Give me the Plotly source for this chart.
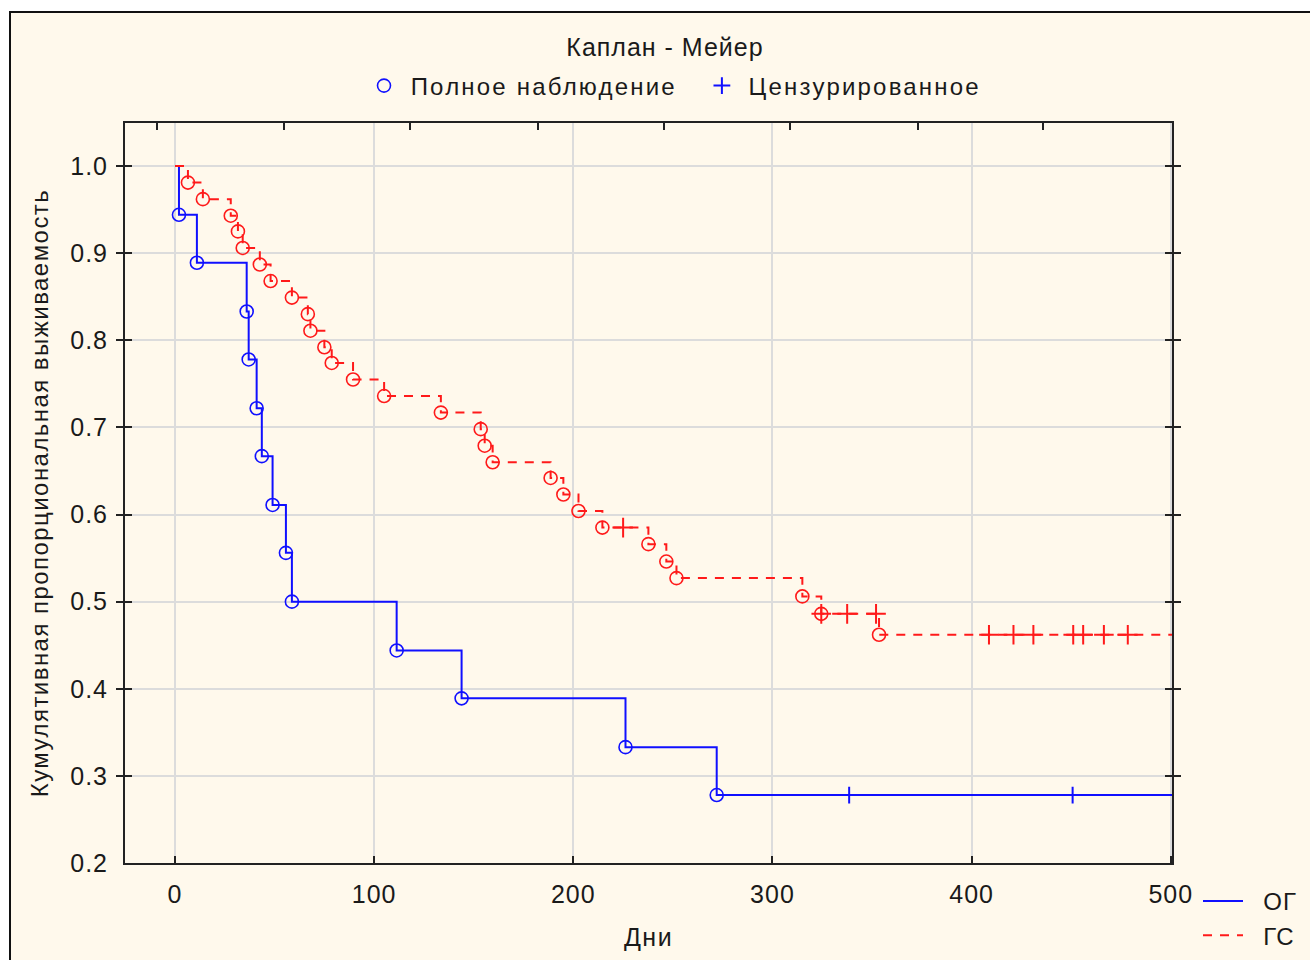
import plotly.graph_objects as go

# ---- Kaplan-Meier estimates, read per group ----
# ОГ (solid blue)
og_event_days = [2, 11, 36, 37, 41, 43.6, 49, 55.7, 58.7, 111.3, 143.9, 226.2, 272]
og_event_surv = [0.944, 0.889, 0.833, 0.778, 0.722, 0.667, 0.611, 0.556, 0.500,
                 0.444, 0.389, 0.333, 0.278]
og_censor_days = [338.5, 450.7]
og_censor_surv = [0.278, 0.278]
og_followup_end = 510

# ГС (dashed red)
gs_event_days = [6.5, 14, 28, 31.6, 34, 42.6, 48, 58.7, 66.7, 68, 75, 78.7, 89.4, 105,
                 133.5, 153.5, 155.5, 159.5, 188.6, 195, 202.6, 214.6, 237.7, 246.7,
                 251.8, 315, 324.5, 353.5]
gs_event_surv = [0.981, 0.962, 0.943, 0.925, 0.906, 0.887, 0.868, 0.849, 0.830, 0.811,
                 0.792, 0.774, 0.755, 0.736, 0.717, 0.698, 0.679, 0.660, 0.642, 0.623,
                 0.604, 0.585, 0.566, 0.546, 0.527, 0.506, 0.486, 0.462]
gs_censor_days = [225, 324.5, 337.5, 352, 408.7, 421, 431, 451, 456, 466.4, 478.4]
gs_censor_surv = [0.585, 0.486, 0.486, 0.486, 0.462, 0.462, 0.462, 0.462, 0.462,
                  0.462, 0.462]
gs_followup_end = 510

x_ticks = [0, 100, 200, 300, 400, 500]
y_ticks = [0.2, 0.3, 0.4, 0.5, 0.6, 0.7, 0.8, 0.9, 1.0]
top_ticks = [-9.0, 54.7, 117.9, 182.1, 245.7, 308.9, 373.1, 435.8]

BLUE = "#1010ff"
RED = "#ff1a1a"
CREAM = "#fff9ec"
FONT = "Liberation Sans, Arial, sans-serif"
TXT = "#1a1a1a"


def spaced(text, px_gap):
    return f'<span style="letter-spacing:{px_gap}px">{text}</span>'


def step_xy(days, surv, end):
    xs = [0] + list(days) + [end]
    ys = [1.0] + list(surv) + [surv[-1]]
    return xs, ys


fig = go.Figure()

gx, gy = step_xy(gs_event_days, gs_event_surv, gs_followup_end)
ox, oy = step_xy(og_event_days, og_event_surv, og_followup_end)

# the dashed ГС curve sits on the top (secondary) x axis, which shares the same range
fig.add_trace(go.Scatter(
    x=gx, y=gy, mode="lines", name=spaced("  ГС", 1), line_shape="hv", xaxis="x2",
    line=dict(color=RED, width=2, dash="9px,8px"), legend="legend", legendrank=2))
fig.add_trace(go.Scatter(
    x=gs_event_days, y=gs_event_surv, mode="markers", showlegend=False,
    marker=dict(symbol="circle-open", size=13, color=RED, line=dict(width=1.6, color=RED))))
fig.add_trace(go.Scatter(
    x=gs_censor_days, y=gs_censor_surv, mode="markers", showlegend=False,
    marker=dict(symbol="cross-thin-open", size=14, color=RED, line=dict(width=2, color=RED))))

fig.add_trace(go.Scatter(
    x=ox, y=oy, mode="lines", name=spaced("  ОГ", 1), line_shape="hv",
    line=dict(color=BLUE, width=2), legend="legend", legendrank=1))
fig.add_trace(go.Scatter(
    x=og_event_days, y=og_event_surv, mode="markers",
    name=" " + spaced("Полное наблюдение", 2.2) + "   ",
    legend="legend2", legendrank=1,
    marker=dict(symbol="circle-open", size=13, color=BLUE, line=dict(width=1.6, color=BLUE))))
fig.add_trace(go.Scatter(
    x=og_censor_days, y=og_censor_surv, mode="markers",
    name=" " + spaced("Цензурированное", 2.2),
    legend="legend2", legendrank=2,
    marker=dict(symbol="cross-thin-open", size=12, color=BLUE, line=dict(width=2, color=BLUE))))

# plot-area geometry in pixels (used for paper-space placement of frame and legends)
L, R, T, B = 125, 1172, 123, 863
W, H = 1310, 960
pw, ph = R - L, B - T


def px(xp):
    return (xp - L) / pw


def py(yp):
    return (B - yp) / ph


tick_font = dict(size=25, color=TXT)

fig.update_layout(
    width=W, height=H,
    margin=dict(l=L, r=W - R, t=T, b=H - B, autoexpand=False),
    paper_bgcolor="white",
    plot_bgcolor="white",
    font=dict(family=FONT, color=TXT, size=22),
    title=dict(text=spaced("Каплан - Мейер", 1), x=665 / W, xanchor="center",
               y=1 - 47 / H, yanchor="middle", font=dict(size=25, color=TXT)),
    xaxis=dict(range=[-25.1, 500.6], tickvals=x_ticks,
               ticktext=[spaced(str(v), 1) for v in x_ticks],
               ticks="inside", ticklen=7,
               tickwidth=2, tickcolor="#222", showline=True, linewidth=2, linecolor="#222",
               mirror=True, showgrid=True, gridcolor="#dcdcdc", gridwidth=2,
               zeroline=False, tickfont=tick_font, ticklabelstandoff=8,
               title=dict(text=spaced("Дни", 1.5), font=dict(size=25, color=TXT), standoff=21)),
    xaxis2=dict(range=[-25.1, 500.6], overlaying="x", side="top", tickvals=top_ticks,
                ticks="inside", ticklen=7, tickwidth=2, tickcolor="#222",
                showticklabels=False, showgrid=False, showline=False, zeroline=False),
    yaxis=dict(range=[0.2, 1.0494], tickvals=y_ticks,
               ticktext=[spaced(f"{v:.1f}", 1) for v in y_ticks],
               ticks="inside",
               ticklen=7, tickwidth=2, tickcolor="#222", showline=True, linewidth=2,
               linecolor="#222", mirror="allticks", showgrid=True, gridcolor="#dcdcdc",
               gridwidth=2, zeroline=False, tickfont=tick_font,
               ticklabelstandoff=10,
               title=dict(text=spaced("Кумулятивная пропорциональная выживаемость", 1.45),
                          font=dict(size=24, color=TXT), standoff=15)),
    legend=dict(x=px(1198), xanchor="left", y=py(879), yanchor="top",
                orientation="v", bgcolor="rgba(0,0,0,0)", font=dict(size=24, color=TXT),
                tracegroupgap=0, itemwidth=40),
    legend2=dict(x=px(675), xanchor="center", y=py(86), yanchor="middle",
                 orientation="h", bgcolor="rgba(0,0,0,0)", font=dict(size=24, color=TXT)),
    shapes=[dict(type="rect", xref="paper", yref="paper", layer="below",
                 x0=px(10), x1=px(1330), y0=py(990), y1=py(12),
                 fillcolor=CREAM, line=dict(color="#111", width=2))],
    showlegend=True,
)

fig.write_html("out.html")
